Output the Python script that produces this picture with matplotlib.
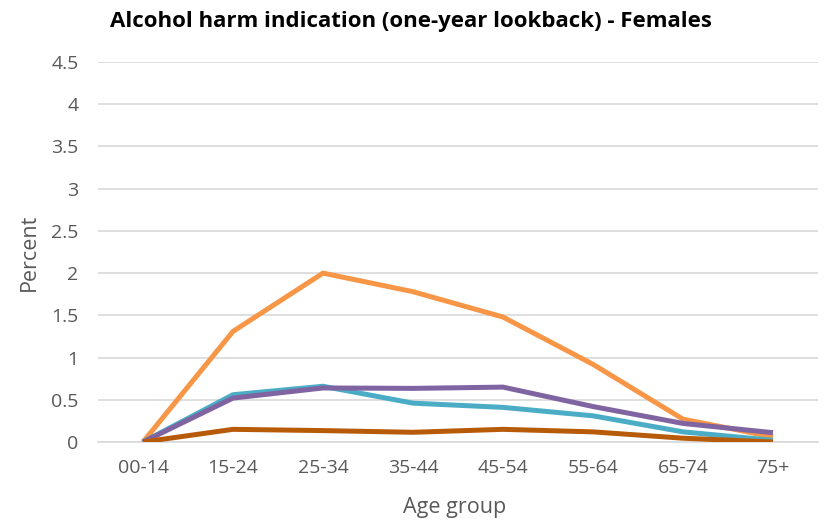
import matplotlib
matplotlib.use("Agg")
import matplotlib.pyplot as plt

age_groups = ["00-14", "15-24", "25-34", "35-44", "45-54", "55-64", "65-74", "75+"]

series_orange = [0.0, 1.31, 2.00, 1.78, 1.48, 0.92, 0.27, 0.06]
series_teal = [0.0, 0.56, 0.66, 0.46, 0.41, 0.31, 0.12, 0.02]
series_purple = [0.0, 0.52, 0.64, 0.635, 0.65, 0.42, 0.22, 0.11]
series_brown = [0.0, 0.15, 0.135, 0.115, 0.15, 0.12, 0.045, 0.0]

y_ticks = [0, 0.5, 1, 1.5, 2, 2.5, 3, 3.5, 4, 4.5]
y_tick_labels = ["0", "0.5", "1", "1.5", "2", "2.5", "3", "3.5", "4", "4.5"]

plt.rcParams["font.family"] = ["Open Sans", "DejaVu Sans"]

W, H = 830, 526
fig = plt.figure(figsize=(W / 100, H / 100), dpi=100)
ax = fig.add_axes([98 / W, 1 - 442 / H, 720 / W, 380 / H])

x = list(range(len(age_groups)))
lw = 3.6
style = dict(lw=lw, solid_capstyle="butt", solid_joinstyle="round")
ax.plot(x, series_orange, color="#F79646", zorder=3, **style)
ax.plot(x, series_teal, color="#4BACC6", zorder=4, **style)
ax.plot(x, series_purple, color="#8064A2", zorder=5, **style)
ax.plot(x, series_brown, color="#B85B09", zorder=6, **style)

ax.set_xlim(-0.5, len(age_groups) - 0.5)
ax.set_ylim(0, 4.5)
ax.set_yticks(y_ticks)
ax.set_yticklabels(y_tick_labels)
ax.set_xticks(x)
ax.set_xticklabels(age_groups)

ax.grid(axis="y", color="#D9D9D9", lw=1.2)
ax.set_axisbelow(True)
for side in ["top", "right", "left"]:
    ax.spines[side].set_visible(False)
ax.spines["bottom"].set_color("#D9D9D9")
ax.spines["bottom"].set_linewidth(1.2)
ax.spines["bottom"].set_zorder(1)

ax.tick_params(axis="both", length=0, labelsize=14, labelcolor="#595959")
ax.tick_params(axis="y", pad=14)
ax.tick_params(axis="x", pad=12)

fig.text(455 / W, 1 - 508 / H, "Age group", ha="center", va="center",
         fontsize=15.5, color="#595959")
fig.text(29 / W, 1 - 252 / H, "Percent", ha="center", va="center",
         rotation=90, fontsize=15.5, color="#595959")

fig.text(411 / W, 1 - 22 / H, "Alcohol harm indication (one-year lookback) - Females",
         ha="center", va="center", fontsize=16, fontweight="bold", color="#000000")

fig.savefig("out.png", dpi=100, facecolor="white")
